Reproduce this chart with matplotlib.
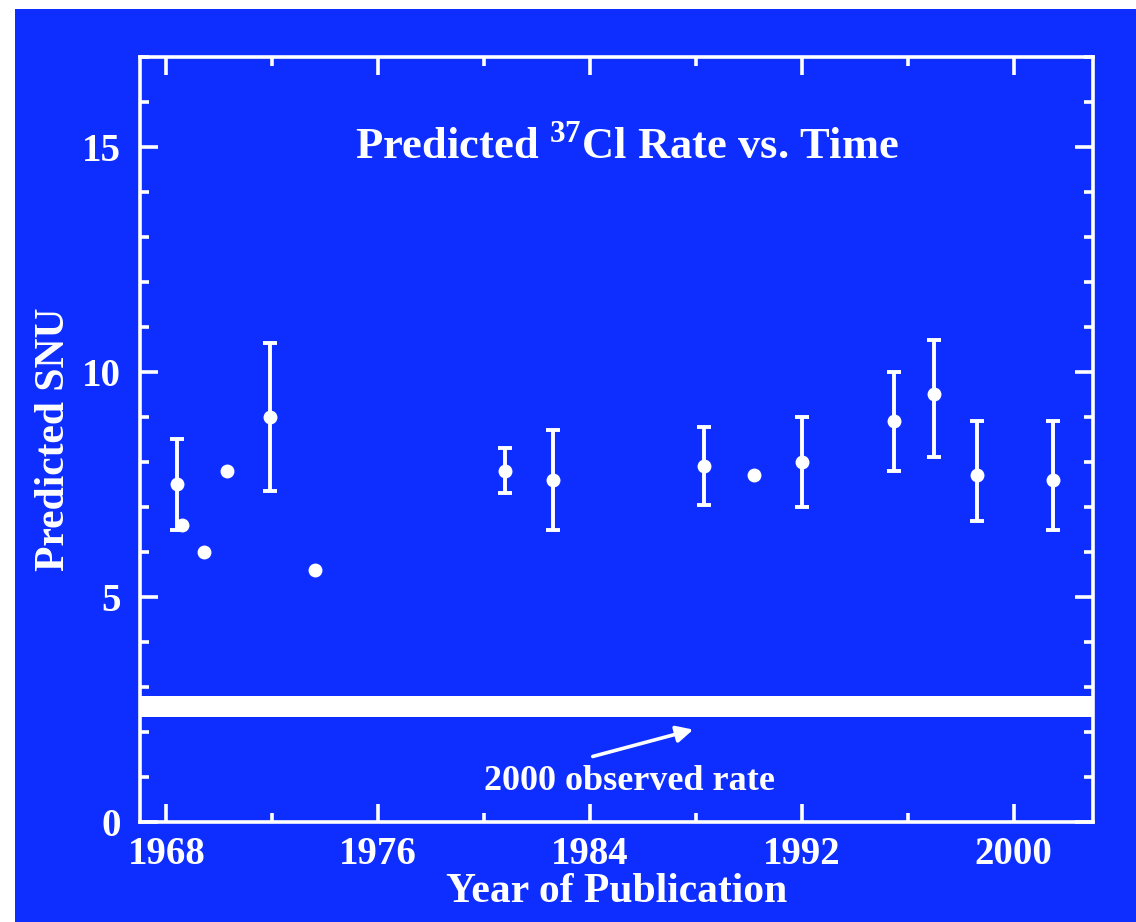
import numpy as np
import matplotlib.pyplot as plt
from matplotlib.patches import Rectangle
from matplotlib.ticker import MultipleLocator

plt.rcParams['font.family'] = ['Liberation Serif', 'DejaVu Serif']
plt.rcParams['font.weight'] = 'bold'
plt.rcParams['axes.labelweight'] = 'bold'
plt.rcParams['mathtext.fontset'] = 'custom'
plt.rcParams['mathtext.rm'] = 'Liberation Serif:bold'

blue = '#0d2eff'
white = '#ffffff'

# predictions with error bars
year_err = [1968.4, 1971.9, 1980.8, 1982.6, 1988.3, 1992.0, 1995.5, 1997.0, 1998.6, 2001.5]
snu_err = [7.5, 9.0, 7.8, 7.6, 7.9, 8.0, 8.9, 9.5, 7.7, 7.6]
err_lo = [1.0, 1.65, 0.5, 1.1, 0.85, 1.0, 1.1, 1.4, 1.0, 1.1]
err_hi = [1.0, 1.65, 0.5, 1.1, 0.87, 1.0, 1.1, 1.2, 1.2, 1.3]

# predictions without error bars
year_pt = [1968.6, 1969.4, 1970.3, 1973.6, 1990.2]
snu_pt = [6.6, 6.0, 7.8, 5.6, 7.7]

# observed rate band (2000)
obs_lo, obs_hi = 2.33, 2.80

fig = plt.figure(figsize=(11.36, 9.22), dpi=100, facecolor='white')
fig.patches.append(Rectangle((15 / 1136, 0), 1, 1 - 9 / 922, transform=fig.transFigure,
                             facecolor=blue, edgecolor='none', zorder=-10))

ax = fig.add_axes([140 / 1136, 100 / 922, 953 / 1136, 765 / 922])
ax.set_facecolor(blue)
ax.set_xlim(1967, 2003)
ax.set_ylim(0, 17)

ax.axhspan(obs_lo, obs_hi, color=white, lw=0)

ax.errorbar(year_err, snu_err, yerr=[err_lo, err_hi], fmt='o', color=white,
            ms=9, elinewidth=2.8, capsize=5, capthick=2.8)
ax.plot(year_pt, snu_pt, 'o', color=white, ms=9)

for s in ax.spines.values():
    s.set_color(white)
    s.set_linewidth(2.6)

ax.xaxis.set_major_locator(MultipleLocator(8))
ax.xaxis.set_minor_locator(MultipleLocator(4))
ax.yaxis.set_major_locator(MultipleLocator(5))
ax.yaxis.set_minor_locator(MultipleLocator(1))
ax.tick_params(which='both', direction='in', top=True, right=True, colors=white, width=2.6)
ax.tick_params(which='major', length=13)
ax.tick_params(which='minor', length=6.5)
ax.tick_params(axis='x', labelsize=28, pad=10)
ax.tick_params(axis='y', labelsize=28, pad=14)

ax.set_xlabel('Year of Publication', color=white, fontsize=30, labelpad=0)
ax.set_ylabel('Predicted SNU', color=white, fontsize=30, labelpad=6)

ax.text(1985.4, 15, 'Predicted $^{\\mathrm{37}}$Cl Rate vs. Time', color=white,
        fontsize=32, ha='center', va='center')

ax.annotate('', xy=(1988.0, 2.07), xytext=(1984.0, 1.44),
            arrowprops=dict(arrowstyle='-|>', color=white, lw=2.6, mutation_scale=25))
ax.text(1985.5, 0.89, '2000 observed rate', color=white, fontsize=26,
        ha='center', va='center')

fig.savefig('out.png', dpi=100, facecolor=fig.get_facecolor())
